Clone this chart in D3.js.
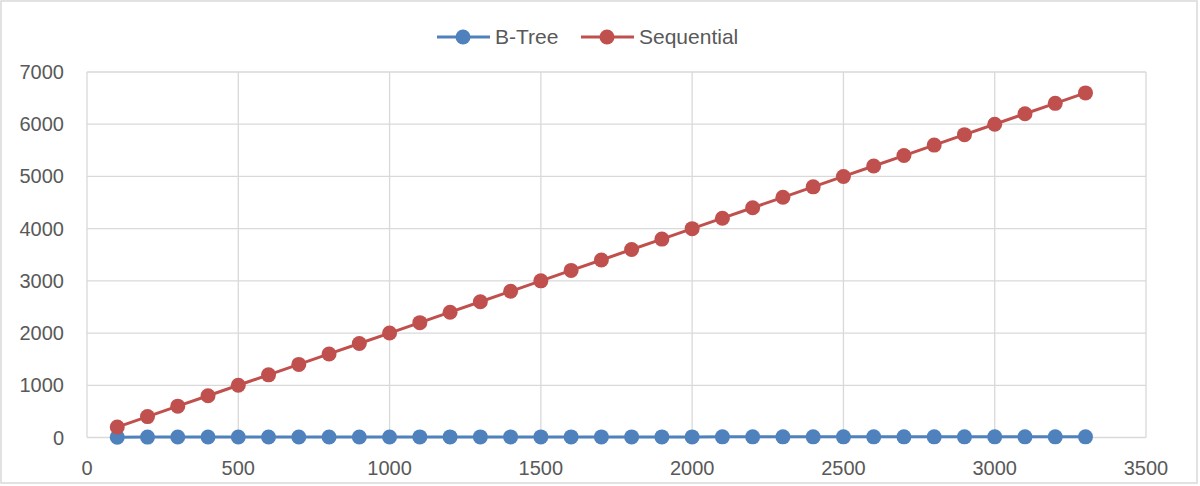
<!DOCTYPE html>
<html>
<head>
<meta charset="utf-8">
<script src="https://cdn.jsdelivr.net/npm/d3@7"></script>
<style>
  body { margin: 0; background: #fff; }
  text { font-family: 'Liberation Sans', Arial, sans-serif; fill: #595959; }
</style>
</head>
<body>
<div id="chart"></div>
<script>
const sizes = [100, 200, 300, 400, 500, 600, 700, 800, 900, 1000, 1100, 1200, 1300, 1400, 1500, 1600,
  1700, 1800, 1900, 2000, 2100, 2200, 2300, 2400, 2500, 2600, 2700, 2800, 2900, 3000, 3100, 3200, 3300]
const btree = [7, 8, 9, 9, 9, 10, 10, 10, 10, 10, 11, 11, 11, 11, 11, 11,
  11, 11, 11, 11, 12, 12, 12, 12, 12, 12, 12, 12, 12, 12, 12, 12, 12]
const sequential = [200, 400, 600, 800, 1000, 1200, 1400, 1600, 1800, 2000, 2200, 2400, 2600, 2800, 3000, 3200,
  3400, 3600, 3800, 4000, 4200, 4400, 4600, 4800, 5000, 5200, 5400, 5600, 5800, 6000, 6200, 6400, 6600]
const xTicks = [0, 500, 1000, 1500, 2000, 2500, 3000, 3500]
const yTicks = [0, 1000, 2000, 3000, 4000, 5000, 6000, 7000]

const series = [
  { name: 'B-Tree', values: btree, color: '#4f81bd' },
  { name: 'Sequential', values: sequential, color: '#c0504d' }
]

const width = 1200
const height = 486
const margin = { top: 72, left: 87, right: 54, bottom: 48.5 }

const svg = d3
  .select('#chart')
  .append('svg')
  .attr('width', width)
  .attr('height', height)

// outer frame
svg
  .append('rect')
  .attr('x', 1)
  .attr('y', 1)
  .attr('width', width - 4)
  .attr('height', height - 4)
  .attr('fill', 'white')
  .attr('stroke', '#d9d9d9')
  .attr('stroke-width', 1.5)

const x = d3.scaleLinear().domain([0, 3500]).range([margin.left, width - margin.right])
const y = d3.scaleLinear().domain([0, 7000]).range([height - margin.bottom, margin.top])

// grid
svg
  .append('g')
  .selectAll('line')
  .data(yTicks)
  .enter()
  .append('line')
  .attr('x1', x(0))
  .attr('x2', x(3500))
  .attr('y1', d => y(d))
  .attr('y2', d => y(d))
  .attr('stroke', '#d9d9d9')
  .attr('stroke-width', 1.3)

svg
  .append('g')
  .selectAll('line')
  .data(xTicks)
  .enter()
  .append('line')
  .attr('x1', d => x(d))
  .attr('x2', d => x(d))
  .attr('y1', y(0))
  .attr('y2', y(7000))
  .attr('stroke', '#d9d9d9')
  .attr('stroke-width', 1.3)

// tick labels
svg
  .append('g')
  .selectAll('text')
  .data(yTicks)
  .enter()
  .append('text')
  .attr('x', x(0) - 23)
  .attr('y', d => y(d))
  .attr('dy', '0.35em')
  .attr('text-anchor', 'end')
  .style('font-size', '20px')
  .text(d => d)

svg
  .append('g')
  .selectAll('text')
  .data(xTicks)
  .enter()
  .append('text')
  .attr('x', d => x(d))
  .attr('y', y(0) + 30)
  .attr('dy', '0.35em')
  .attr('text-anchor', 'middle')
  .style('font-size', '20px')
  .text(d => d)

// lines + markers
const line = d3
  .line()
  .x((d, i) => x(sizes[i]))
  .y(d => y(d))

series.forEach(function(s) {
  svg
    .append('path')
    .attr('d', line(s.values))
    .attr('fill', 'none')
    .attr('stroke', s.color)
    .attr('stroke-width', 3)

  svg
    .append('g')
    .selectAll('circle')
    .data(s.values)
    .enter()
    .append('circle')
    .attr('cx', (d, i) => x(sizes[i]))
    .attr('cy', d => y(d))
    .attr('r', 7.5)
    .attr('fill', s.color)
})

// legend
const legendX = [437, 581]
series.forEach(function(s, i) {
  const g = svg.append('g').attr('transform', 'translate(' + legendX[i] + ',37)')
  g.append('line')
    .attr('x1', 0)
    .attr('x2', 53)
    .attr('stroke', s.color)
    .attr('stroke-width', 3)
  g.append('circle')
    .attr('cx', 26)
    .attr('r', 7.5)
    .attr('fill', s.color)
  g.append('text')
    .attr('x', 58)
    .attr('dy', '0.35em')
    .style('font-size', '21px')
    .text(s.name)
})
</script>
</body>
</html>
